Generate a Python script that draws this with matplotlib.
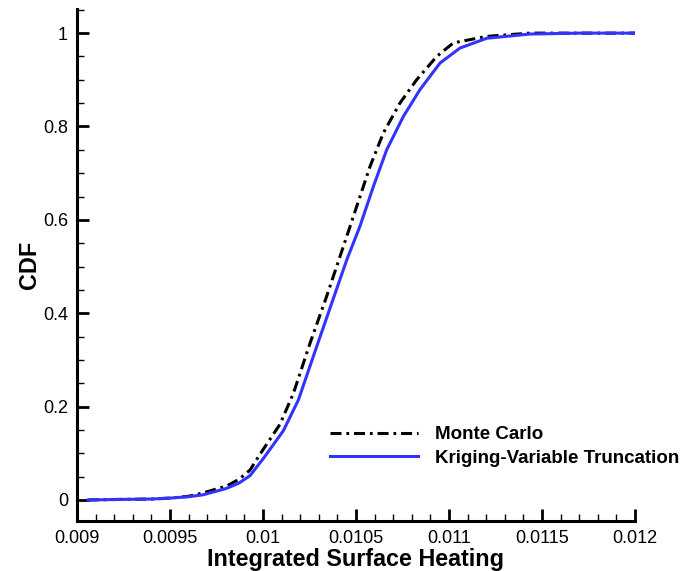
import matplotlib
matplotlib.use("Agg")
import matplotlib.pyplot as plt
from matplotlib.ticker import MultipleLocator, FormatStrFormatter

plt.rcParams["font.family"] = ["Liberation Sans", "DejaVu Sans"]

# Monte Carlo CDF
mc_x = [0.00906, 0.0092, 0.0094, 0.0095, 0.0096, 0.009677, 0.009805, 0.00987,
        0.00993, 0.009984, 0.010091, 0.010163, 0.010253, 0.010342, 0.010432,
        0.010504, 0.010575, 0.010647, 0.010736, 0.010826, 0.010934, 0.011023,
        0.011203, 0.011435, 0.0117, 0.012]
mc_y = [0.0, 0.001, 0.002, 0.004, 0.008, 0.015, 0.030, 0.044,
        0.064, 0.098, 0.162, 0.228, 0.336, 0.436, 0.543,
        0.629, 0.714, 0.786, 0.850, 0.900, 0.950, 0.979,
        0.993, 1.0, 1.0, 1.0]

# Kriging-Variable Truncation CDF
kv_x = [0.00906, 0.0092, 0.0094, 0.0095, 0.0096, 0.009677, 0.009805, 0.00987,
        0.00993, 0.010002, 0.010109, 0.010190, 0.010289, 0.010369, 0.010450,
        0.010521, 0.010593, 0.010665, 0.010754, 0.010844, 0.010952, 0.011059,
        0.011203, 0.011435, 0.0117, 0.012]
kv_y = [0.0, 0.001, 0.002, 0.004, 0.007, 0.011, 0.025, 0.036,
        0.052, 0.089, 0.148, 0.214, 0.329, 0.421, 0.514,
        0.586, 0.671, 0.750, 0.821, 0.879, 0.936, 0.968,
        0.989, 0.998, 1.0, 1.0]

fig = plt.figure(figsize=(6.92, 5.71), dpi=100)
ax = fig.add_axes([0.1113, 0.0876, 0.8063, 0.8961])

ax.plot(mc_x, mc_y, color="black", lw=2.2, linestyle=(0, (3.6, 1.6, 0.9, 1.6)),
        label="Monte Carlo", zorder=2, solid_joinstyle="round", dash_joinstyle="round")
ax.plot(kv_x, kv_y, color="#3333ff", lw=2.2, label="Kriging-Variable Truncation",
        zorder=3, solid_joinstyle="round")

ax.set_xlim(0.009, 0.012)
ax.set_ylim(-0.045, 1.051)

ax.xaxis.set_major_locator(MultipleLocator(0.0005))
ax.xaxis.set_minor_locator(MultipleLocator(0.0001))
ax.yaxis.set_major_locator(MultipleLocator(0.2))
ax.yaxis.set_minor_locator(MultipleLocator(0.05))
ax.xaxis.set_major_formatter(FormatStrFormatter("%g"))
ax.yaxis.set_major_formatter(FormatStrFormatter("%g"))

for s in ["top", "right"]:
    ax.spines[s].set_visible(False)
for s in ["left", "bottom"]:
    ax.spines[s].set_linewidth(2.2)

ax.tick_params(which="major", direction="in", length=8.6, width=2, labelsize=13, pad=6.5)
ax.tick_params(which="minor", direction="in", length=5, width=1)

ax.set_xlabel("Integrated Surface Heating", fontsize=16.8, fontweight="bold", labelpad=1)
ax.set_ylabel("CDF", fontsize=16.8, fontweight="bold", labelpad=1)

leg = ax.legend(loc="upper left", bbox_to_anchor=(330 / 692, 1 - 426 / 571),
                bbox_transform=fig.transFigure, frameon=False, handlelength=4.7,
                handletextpad=0.9, labelspacing=0.35, borderpad=0, borderaxespad=0,
                prop={"size": 13.5, "weight": "bold"})

fig.savefig("out.png", dpi=100)
